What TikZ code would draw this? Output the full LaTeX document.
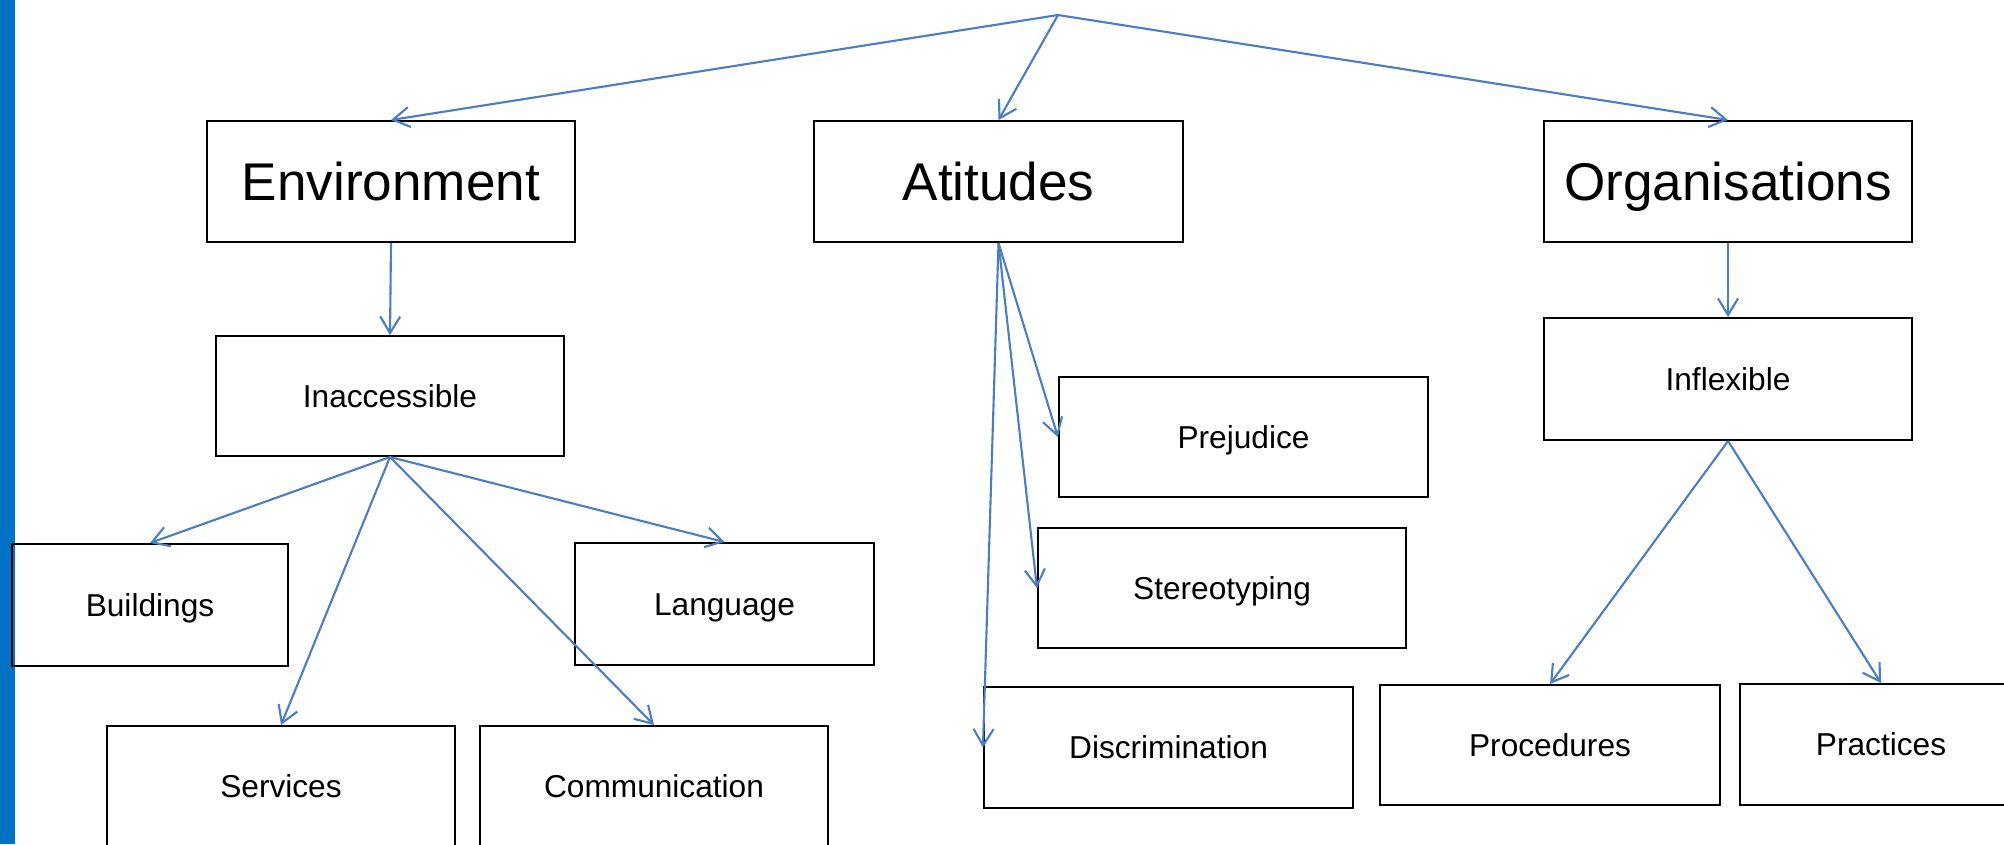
\documentclass[tikz,border=0pt]{standalone}
\usepackage{fontspec}
\setmainfont{Liberation Sans}
\usetikzlibrary{arrows.meta}
\definecolor{linkblue}{RGB}{74,126,193}
\definecolor{barblue}{RGB}{0,114,198}
\tikzset{
  box/.style={draw=black, line width=0.55pt, rectangle, inner sep=0pt, text depth=0pt},
  bigbox/.style={box, font=\fontsize{15.1}{18}\selectfont, text height=10.8pt},
  smallbox/.style={box, font=\fontsize{9}{11}\selectfont, text height=6.44pt},
  link/.style={draw=linkblue, line width=0.6pt, -{Straight Barb[length=4.7pt,width=5.7pt]}}
}
\begin{document}
\begin{tikzpicture}[x=0.01cm, y=-0.01cm]
\useasboundingbox (0,0) rectangle (2004,844);
\clip (0,0) rectangle (2004,844);
\fill[barblue] (0,0) rectangle (15,844);
\coordinate (apex) at (1058,15);
% top level
\node[bigbox, minimum width=3.68cm, minimum height=1.21cm] (env) at (391,181.5) {Environment};
\node[bigbox, minimum width=3.69cm, minimum height=1.21cm] (att) at (998.5,181.5) {Atitudes};
\node[bigbox, minimum width=3.68cm, minimum height=1.21cm] (org) at (1728,181.5) {Organisations};
% environment branch
\node[smallbox, minimum width=3.48cm, minimum height=1.20cm] (inacc) at (390,396) {Inaccessible};
\node[smallbox, minimum width=2.76cm, minimum height=1.22cm] (build) at (150,605) {Buildings};
\node[smallbox, minimum width=3.48cm, minimum height=1.20cm] (serv) at (281,786) {Services};
\node[smallbox, minimum width=3.48cm, minimum height=1.20cm] (comm) at (654,786) {Communication};
\node[smallbox, minimum width=2.99cm, minimum height=1.22cm] (lang) at (724.5,604) {Language};
% attitudes branch
\node[smallbox, minimum width=3.69cm, minimum height=1.20cm] (prej) at (1243.5,437) {Prejudice};
\node[smallbox, minimum width=3.68cm, minimum height=1.20cm] (stereo) at (1222,588) {Stereotyping};
\node[smallbox, minimum width=3.69cm, minimum height=1.21cm] (disc) at (1168.5,747.5) {Discrimination};
% organisations branch
\node[smallbox, minimum width=3.68cm, minimum height=1.22cm] (infl) at (1728,379) {Inflexible};
\node[smallbox, minimum width=3.40cm, minimum height=1.20cm] (proc) at (1550,745) {Procedures};
\node[smallbox, minimum width=2.82cm, minimum height=1.21cm] (prac) at (1881,744.5) {Practices};
% connectors
\draw[link] (apex) -- (env.north);
\draw[link] (apex) -- (att.north);
\draw[link] (apex) -- (org.north);
\draw[link] (env.south) -- (inacc.north);
\draw[link] (inacc.south) -- (build.north);
\draw[link] (inacc.south) -- (serv.north);
\draw[link] (inacc.south) -- (comm.north);
\draw[link] (inacc.south) -- (lang.north);
\draw[link] (att.south) -- (prej.west);
\draw[link] (att.south) -- (stereo.west);
\draw[link] (att.south) -- (disc.west);
\draw[link] (org.south) -- (infl.north);
\draw[link] (infl.south) -- (proc.north);
\draw[link] (infl.south) -- (prac.north);
\end{tikzpicture}
\end{document}
